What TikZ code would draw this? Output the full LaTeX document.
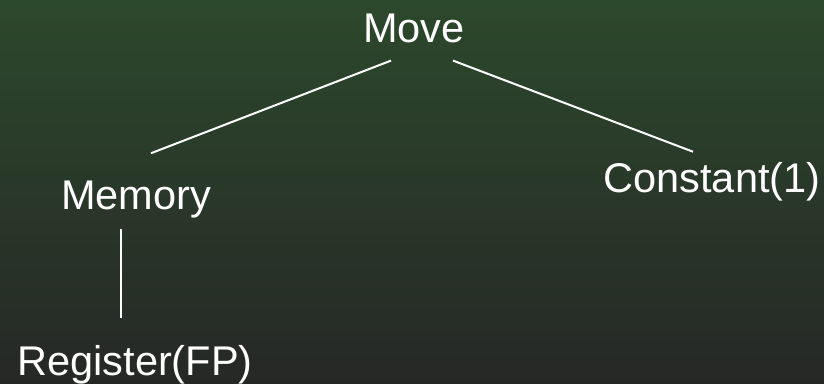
\documentclass[tikz,border=0pt]{standalone}
\usepackage{fontspec}
\setmainfont{Liberation Sans}
\usetikzlibrary{calc}
\definecolor{bgtop}{RGB}{44,72,44}
\definecolor{bgbot}{RGB}{38,40,38}

\begin{document}
\begin{tikzpicture} [
    x=1pt, y=1pt,
    term/.style={inner sep=0pt, anchor=base, text=white, font=\fontsize{41.5}{48}\selectfont},
    edge/.style={draw=white, line width=2pt}
    ]
    %Background
    \shade[top color=bgtop, bottom color=bgbot] (0,0) rectangle (824,383);
    \useasboundingbox (0,0) rectangle (824,383);

    %Nodes
    \node[term]      (move)      at (414,340) {Move};
    \node[term]      (memory)    at (136,173) {Memory};
    \node[term]      (const)     at (712,190) {Constant(1)};
    \node[term]      (register)  at (135,8)   {Register(FP)};

    %Lines
    \draw[edge] ($(move.south)+(-23,-17)$) -- ($(memory.north)+(15,28)$);
    \draw[edge] ($(move.south)+(39,-17)$) -- ($(const.north)+(-19,11)$);
    \draw[edge] ($(memory.south)+(-15,-10)$) -- ($(register.north)+(-14,27)$);

\end{tikzpicture}
\end{document}
